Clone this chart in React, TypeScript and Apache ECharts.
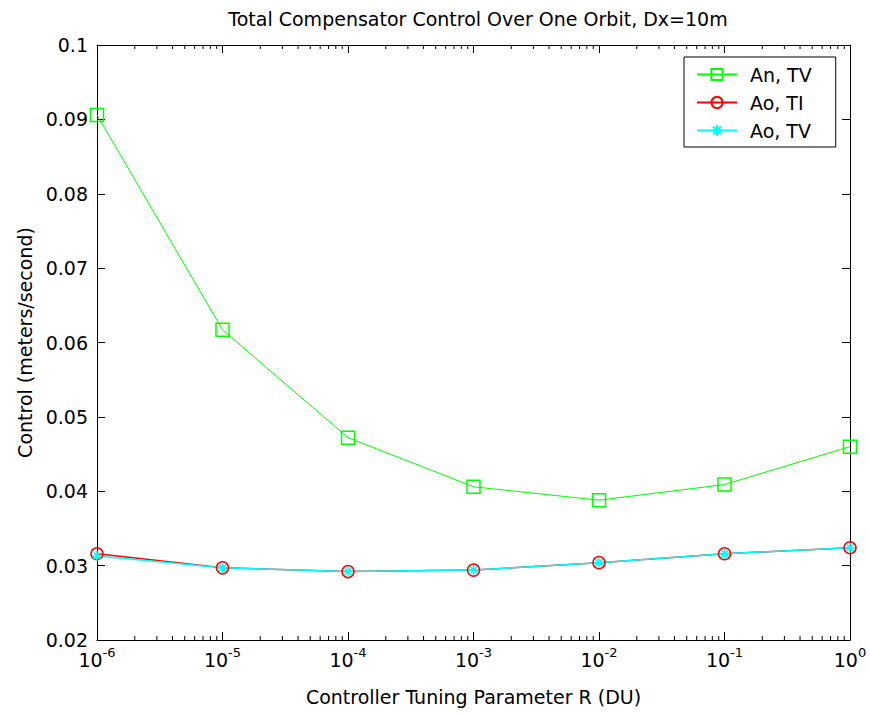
import React, { useEffect, useRef } from "react";
import * as echarts from "echarts";

const rValues = [1e-6, 1e-5, 1e-4, 1e-3, 1e-2, 1e-1, 1];
const anTV = [0.0906, 0.0617, 0.0472, 0.0406, 0.0388, 0.0409, 0.046];
const aoTI = [0.0316, 0.0297, 0.0292, 0.0294, 0.0304, 0.0316, 0.0324];
const aoTV = [0.0313, 0.0297, 0.0292, 0.0294, 0.0304, 0.0316, 0.0324];
const seriesNames = ["An, TV", "Ao, TI", "Ao, TV"];
const titleText = "Total Compensator Control Over One Orbit, Dx=10m";
const xName = "Controller Tuning Parameter R (DU)";
const yName = "Control (meters/second)";
const minorMultipliers = [2, 3, 4, 5, 6, 7, 8, 9];
const decades = [-6, -5, -4, -3, -2, -1];

const FONT = "'DejaVu Sans', Verdana, sans-serif";
const FS = 19;
const ASTERISK = "path://M0,-10L0,10M-10,0L10,0M-7,-7L7,7M-7,7L7,-7";

export default function App() {
  const ref = useRef<HTMLDivElement>(null);
  useEffect(() => {
    if (!ref.current) return;
    const chart = echarts.init(ref.current, null, { renderer: "svg" });
    const minorTicks: number[][] = [];
    decades.forEach((d) =>
      minorMultipliers.forEach((m) => minorTicks.push([m * Math.pow(10, d), 0.02]))
    );
    const pair = (ys: number[]) => rValues.map((r, i) => [r, ys[i]]);
    const axisCommon = {
      axisLine: { lineStyle: { color: "#000", width: 1 } },
      axisTick: { inside: true, length: 8, lineStyle: { color: "#000" } },
      splitLine: { show: false },
    };
    chart.setOption({
      animation: false,
      backgroundColor: "#fff",
      title: {
        text: titleText,
        left: 473,
        textAlign: "center",
        top: 4,
        textStyle: { fontFamily: FONT, fontSize: FS, fontWeight: "normal", color: "#000" },
      },
      grid: { left: 97, top: 45, right: 20, bottom: 75 },
      legend: {
        data: seriesNames,
        orient: "vertical",
        left: 684,
        top: 57,
        padding: [8, 24, 7, 12],
        itemWidth: 40,
        itemHeight: 14,
        itemGap: 9,
        borderColor: "#000",
        borderWidth: 1,
        backgroundColor: "#fff",
        textStyle: { fontFamily: FONT, fontSize: FS, color: "#000", padding: [0, 0, 0, 8] },
      },
      xAxis: [
        {
          type: "log",
          logBase: 10,
          min: 1e-6,
          max: 1,
          name: xName,
          nameLocation: "middle",
          nameGap: 47,
          nameTextStyle: { fontFamily: FONT, fontSize: FS, color: "#000" },
          ...axisCommon,
          axisLabel: {
            margin: 6,
            color: "#000",
            formatter: (v: number) =>
              "{b|10}{s|" + Math.round(Math.log10(v)) + "}",
            rich: {
              b: { fontFamily: FONT, fontSize: FS, color: "#000" },
              s: { fontFamily: FONT, fontSize: 13, color: "#000", padding: [0, 0, 14, 0] },
            },
          },
        },
        {
          type: "log",
          logBase: 10,
          min: 1e-6,
          max: 1,
          position: "top",
          ...axisCommon,
          axisLabel: { show: false },
        },
      ],
      yAxis: [
        {
          type: "value",
          min: 0.02,
          max: 0.1,
          interval: 0.01,
          name: yName,
          nameLocation: "middle",
          nameGap: 60,
          nameTextStyle: { fontFamily: FONT, fontSize: FS, color: "#000" },
          ...axisCommon,
          axisLabel: {
            fontFamily: FONT,
            fontSize: FS,
            color: "#000",
            margin: 9,
            formatter: (v: number) => String(parseFloat(v.toFixed(2))),
          },
        },
        {
          type: "value",
          min: 0.02,
          max: 0.1,
          interval: 0.01,
          position: "right",
          ...axisCommon,
          axisLabel: { show: false },
        },
      ],
      series: [
        {
          type: "custom",
          name: "minor",
          silent: true,
          data: minorTicks,
          renderItem: (params: any, api: any) => {
            const x = api.coord([api.value(0), api.value(1)])[0];
            const cs = params.coordSys;
            const bottom = cs.y + cs.height;
            return {
              type: "group",
              children: [
                { type: "line", shape: { x1: x, y1: bottom, x2: x, y2: bottom - 4 }, style: { stroke: "#000", lineWidth: 1 } },
                { type: "line", shape: { x1: x, y1: cs.y, x2: x, y2: cs.y + 4 }, style: { stroke: "#000", lineWidth: 1 } },
              ],
            };
          },
        },
        {
          name: seriesNames[0],
          type: "line",
          data: pair(anTV),
          symbol: "rect",
          symbolSize: 13,
          lineStyle: { color: "#00ff00", width: 1 },
          itemStyle: { color: "rgba(0,0,0,0)", borderColor: "#00ff00", borderWidth: 1.5 },
        },
        {
          name: seriesNames[1],
          type: "line",
          data: pair(aoTI),
          symbol: "circle",
          symbolSize: 12,
          lineStyle: { color: "#ff0000", width: 1.5 },
          itemStyle: { color: "rgba(0,0,0,0)", borderColor: "#ff0000", borderWidth: 1.5 },
        },
        {
          name: seriesNames[2],
          type: "line",
          data: pair(aoTV),
          symbol: ASTERISK,
          symbolSize: 10,
          lineStyle: { color: "#00ffff", width: 1.5 },
          itemStyle: { color: "rgba(0,0,0,0)", borderColor: "#00ffff", borderWidth: 1.5 },
        },
      ],
    });
    return () => chart.dispose();
  }, []);
  return (
    <div
      ref={ref}
      style={{ position: "fixed", left: 0, top: 0, width: 870, height: 715 }}
    />
  );
}
